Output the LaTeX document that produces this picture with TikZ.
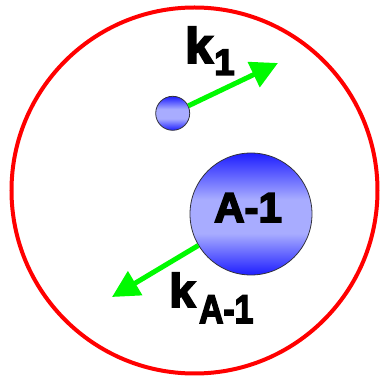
\documentclass[tikz,border=0pt]{standalone}
\usepackage{fontspec}
\setmainfont{Liberation Sans}
\newfontfamily\heavyfont{Liberation Sans Bold}[FakeBold=4]
\usetikzlibrary{arrows.meta}
\definecolor{ballblue}{RGB}{30,30,255}
\definecolor{balllight}{RGB}{168,172,255}
\definecolor{arrgreen}{RGB}{0,250,0}
\pgfdeclareverticalshading{ballsh}{100bp}{color(0bp)=(ballblue); color(25bp)=(ballblue); color(42bp)=(balllight); color(56bp)=(balllight); color(75bp)=(ballblue); color(100bp)=(ballblue)}
\tikzset{
  ball/.style={circle,inner sep=0pt,draw={rgb,255:red,50;green,50;blue,60},line width=0.8pt,
    shading=ballsh},
  rate/.style={draw=arrgreen,line width=5pt,-{Triangle[length=27pt,width=27pt]}},
  lbl/.style={inner sep=0pt,anchor=base west}
}
\begin{document}
\begin{tikzpicture}[x=1pt,y=-1pt]
\useasboundingbox (0,0) rectangle (381,379);
\draw[red,line width=4pt] (194.5,190.5) circle[radius=183];
\node[ball,minimum size=34pt] (small) at (172.7,113.3) {};
\node[ball,minimum size=122pt] (big) at (251,214) {};
\coordinate (tip1) at (278,63);
\coordinate (tip2) at (112,297);
\draw[rate] (small) -- (tip1);
\draw[rate] (big) -- (tip2);
\node[lbl,font=\fontsize{50}{50}\heavyfont] (k1) at (185,63) {k};
\node[lbl,font=\fontsize{37}{37}\heavyfont] (s1) at (214,75) {1};
\node[lbl,font=\fontsize{47}{47}\heavyfont] (k2) at (169,307) {k};
\node[lbl,font=\fontsize{40}{40}\heavyfont,xscale=0.84] (s2) at (199,323) {A-1};
\node[lbl,font=\fontsize{42}{42}\heavyfont] (bl) at (214,222) {A-1};
\end{tikzpicture}
\end{document}
